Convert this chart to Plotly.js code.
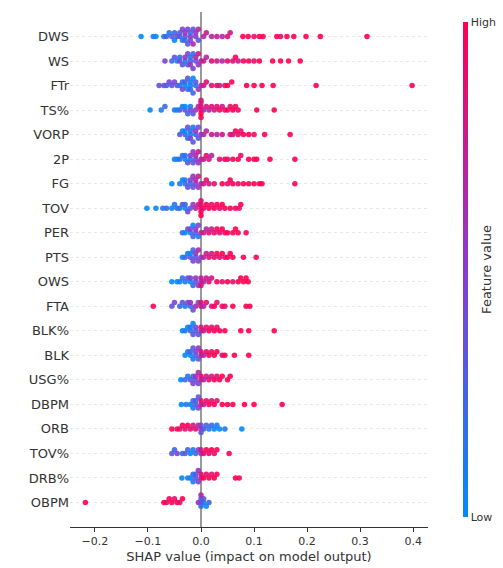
<!DOCTYPE html>
<html>
<head>
<meta charset="utf-8">
<script src="https://cdn.plot.ly/plotly-3.0.1.min.js"></script>
<style>body{margin:0;background:#fff}#chart{width:503px;height:568px}</style>
</head>
<body>
<div id="chart"></div>
<script>
// features, top to bottom
var features = ['DWS','WS','FTr','TS%','VORP','2P','FG','TOV','PER','PTS','OWS','FTA','BLK%','BLK','USG%','DBPM','ORB','TOV%','DRB%','OBPM'];

// SHAP values per feature
var shapDWS = [-0.113,-0.09,-0.085,-0.07,-0.065,-0.06,-0.055,-0.05,-0.05,-0.045,-0.04,-0.04,-0.035,-0.035,-0.03,-0.03,-0.03,-0.025,-0.025,-0.02,-0.02,-0.02,-0.015,-0.015,-0.01,-0.01,-0.005,-0.005,0.005,0.01,0.02,0.03,0.04,0.05,0.055,0.079,0.089,0.1,0.11,0.117,0.143,0.15,0.162,0.175,0.198,0.225,0.313];
var shapWS = [-0.068,-0.055,-0.05,-0.045,-0.04,-0.04,-0.035,-0.03,-0.03,-0.025,-0.025,-0.02,-0.02,-0.02,-0.015,-0.015,-0.01,-0.01,-0.005,-0.005,0,0.005,0.01,0.02,0.03,0.04,0.05,0.06,0.065,0.07,0.08,0.09,0.1,0.11,0.135,0.15,0.165,0.187];
var shapFTr = [-0.079,-0.07,-0.065,-0.06,-0.055,-0.05,-0.045,-0.04,-0.035,-0.035,-0.03,-0.03,-0.025,-0.025,-0.02,-0.02,-0.02,-0.015,-0.015,-0.01,-0.01,-0.005,0,0.005,0.01,0.02,0.03,0.035,0.045,0.05,0.058,0.086,0.1,0.115,0.136,0.217,0.398];
var shapTS = [-0.096,-0.075,-0.068,-0.05,-0.045,-0.04,-0.035,-0.03,-0.03,-0.025,-0.02,-0.02,-0.015,-0.01,-0.005,0,0,0,0,0,0,0.005,0.01,0.015,0.02,0.025,0.03,0.035,0.04,0.045,0.05,0.055,0.06,0.065,0.07,0.105,0.138];
var shapVORP = [-0.04,-0.035,-0.03,-0.03,-0.025,-0.025,-0.02,-0.02,-0.02,-0.015,-0.015,-0.01,-0.01,-0.005,-0.005,0,0.005,0.01,0.02,0.03,0.04,0.055,0.06,0.065,0.07,0.075,0.08,0.09,0.1,0.12,0.168];
var shap2P = [-0.05,-0.045,-0.04,-0.035,-0.03,-0.03,-0.025,-0.02,-0.02,-0.015,-0.015,-0.01,-0.01,-0.005,-0.005,0,0.005,0.01,0.015,0.02,0.035,0.045,0.05,0.06,0.07,0.075,0.09,0.1,0.105,0.13,0.177];
var shapFG = [-0.055,-0.04,-0.035,-0.03,-0.03,-0.025,-0.02,-0.02,-0.015,-0.015,-0.01,-0.01,-0.005,-0.005,0,0.005,0.01,0.015,0.025,0.04,0.05,0.055,0.06,0.07,0.08,0.09,0.1,0.11,0.115,0.177];
var shapTOV = [-0.102,-0.085,-0.072,-0.065,-0.055,-0.05,-0.045,-0.04,-0.035,-0.03,-0.03,-0.025,-0.02,-0.015,-0.01,-0.005,0,0,0,0,0,0.005,0.01,0.015,0.02,0.025,0.03,0.035,0.04,0.045,0.055,0.065,0.072,0.075];
var shapPER = [-0.035,-0.03,-0.025,-0.02,-0.02,-0.015,-0.015,-0.01,-0.01,-0.005,-0.005,0,0.005,0.01,0.015,0.02,0.025,0.03,0.035,0.04,0.045,0.05,0.06,0.065,0.07,0.085];
var shapPTS = [-0.035,-0.03,-0.025,-0.02,-0.02,-0.015,-0.015,-0.01,-0.01,-0.005,-0.005,0,0.005,0.01,0.015,0.02,0.025,0.03,0.035,0.04,0.045,0.05,0.055,0.06,0.08,0.104];
var shapOWS = [-0.055,-0.045,-0.04,-0.035,-0.03,-0.025,-0.02,-0.02,-0.015,-0.01,-0.01,-0.005,0,0,0,0.005,0.01,0.015,0.02,0.03,0.04,0.05,0.06,0.07,0.075,0.08,0.085,0.089];
var shapFTA = [-0.09,-0.055,-0.05,-0.04,-0.035,-0.03,-0.025,-0.02,-0.02,-0.015,-0.01,-0.005,0,0,0.005,0.01,0.02,0.025,0.03,0.04,0.045,0.06,0.085,0.092];
var shapBLKp = [-0.035,-0.03,-0.025,-0.02,-0.02,-0.015,-0.015,-0.01,-0.01,-0.005,0,0,0.005,0.01,0.015,0.02,0.025,0.03,0.035,0.045,0.075,0.09,0.138];
var shapBLK = [-0.03,-0.025,-0.02,-0.02,-0.015,-0.015,-0.01,-0.01,-0.005,-0.005,0,0,0.005,0.01,0.015,0.02,0.025,0.03,0.04,0.045,0.063,0.09];
var shapUSG = [-0.038,-0.03,-0.025,-0.02,-0.015,-0.015,-0.01,-0.01,-0.005,-0.005,0,0,0.005,0.01,0.015,0.02,0.025,0.03,0.035,0.04,0.05,0.055];
var shapDBPM = [-0.037,-0.028,-0.02,-0.015,-0.015,-0.01,-0.01,-0.005,-0.005,0,0,0.005,0.01,0.015,0.02,0.025,0.03,0.04,0.05,0.06,0.082,0.1,0.153];
var shapORB = [-0.055,-0.045,-0.04,-0.035,-0.03,-0.025,-0.02,-0.015,-0.01,-0.005,0,0,0,0.005,0.01,0.015,0.02,0.025,0.03,0.035,0.045,0.077];
var shapTOVp = [-0.055,-0.05,-0.045,-0.035,-0.03,-0.025,-0.02,-0.015,-0.01,-0.005,0,0,0.005,0.01,0.015,0.02,0.025,0.03,0.053];
var shapDRBp = [-0.036,-0.025,-0.02,-0.015,-0.015,-0.01,-0.01,-0.005,-0.005,0,0,0.005,0.01,0.015,0.02,0.025,0.03,0.065,0.072];
var shapOBPM = [-0.218,-0.07,-0.065,-0.06,-0.055,-0.05,-0.045,-0.04,-0.035,-0.005,0,0,0,0,0.005,0.005,0.01,0.015];

// feature values on a 0 (low) .. 9 (high) scale
var valDWS = [0,1,0,1,2,1,3,2,0,4,2,3,1,4,3,5,2,4,3,5,2,4,3,6,4,5,3,6,6,7,6,7,6,8,7,9,9,8,9,9,9,8,9,9,9,9,9];
var valWS = [4,2,3,1,4,2,3,1,5,2,4,3,1,5,2,4,3,6,5,7,6,7,6,8,7,6,8,8,9,7,9,9,8,9,9,9,9,9];
var valFTr = [3,4,2,4,3,4,3,1,2,4,0,2,1,3,0,1,2,0,2,1,3,5,6,7,8,8,9,7,8,9,9,9,9,9,9,9,9];
var valTS = [0,1,2,1,0,2,1,3,0,2,4,1,3,5,6,9,8,9,8,9,7,6,7,6,8,7,8,9,7,8,9,8,9,9,8,9,9];
var valVORP = [3,1,2,0,1,3,0,2,4,1,3,2,5,3,4,5,6,6,7,6,7,8,7,9,8,8,9,9,8,9,9];
var val2P = [1,0,2,1,0,2,3,1,4,3,5,4,6,5,7,6,7,8,7,6,8,9,8,9,9,8,9,9,9,9,9];
var valFG = [0,1,0,2,1,3,2,4,3,5,4,6,5,7,6,7,8,7,8,9,8,9,9,8,9,9,9,9,9,9];
var valTOV = [0,0,1,2,0,1,2,1,3,0,2,4,3,5,6,7,9,8,9,8,9,8,9,9,8,9,9,8,9,9,9,9,8,9];
var valPER = [2,0,3,1,4,2,0,3,5,1,4,6,7,6,8,7,8,9,8,9,8,9,9,9,9,9];
var valPTS = [0,2,1,3,0,4,2,3,5,4,6,5,6,7,8,7,8,9,8,9,8,9,9,9,9,9];
var valOWS = [0,1,0,2,1,3,0,4,2,3,5,4,6,7,8,6,7,8,7,9,8,9,8,9,9,9,9,9];
var valFTA = [9,3,4,2,3,1,4,2,5,3,6,4,7,8,6,8,7,9,8,9,8,9,9,9];
var valBLKp = [0,1,0,2,1,3,0,2,4,3,6,8,7,8,9,8,9,8,9,9,9,9,9];
var valBLK = [0,1,0,2,1,3,2,4,3,5,7,8,6,8,9,8,9,9,8,9,9,9];
var valUSG = [0,2,1,3,2,4,3,5,4,6,7,8,6,7,8,7,9,8,9,9,9,9];
var valDBPM = [0,1,0,2,1,3,2,4,3,7,8,7,8,9,8,9,8,9,9,9,9,9,9];
var valORB = [9,9,8,9,8,9,8,7,8,6,5,4,3,3,2,1,2,0,1,0,1,0];
var valTOVp = [3,2,4,1,3,2,0,1,2,4,6,7,8,9,8,9,8,9,9];
var valDRBp = [0,1,0,2,1,3,2,4,5,7,8,9,8,9,8,9,9,9,9];
var valOBPM = [9,9,8,9,9,8,9,8,9,5,4,3,2,6,1,3,0,2];

var shapCols = [shapDWS,shapWS,shapFTr,shapTS,shapVORP,shap2P,shapFG,shapTOV,shapPER,shapPTS,shapOWS,shapFTA,shapBLKp,shapBLK,shapUSG,shapDBPM,shapORB,shapTOVp,shapDRBp,shapOBPM];
var valCols = [valDWS,valWS,valFTr,valTS,valVORP,val2P,valFG,valTOV,valPER,valPTS,valOWS,valFTA,valBLKp,valBLK,valUSG,valDBPM,valORB,valTOVp,valDRBp,valOBPM];

// beeswarm: bin along x, stack alternately above/below the row
var binW = 0.009, step = 0.15, cap = 0.4;
var xs = [], ys = [], cs = [];
for (var r = 0; r < features.length; r++) {
    var s = shapCols[r], v = valCols[r];
    var bins = {};
    for (var i = 0; i < s.length; i++) {
        var b = Math.round(s[i] / binW);
        var k = bins[b] || 0;
        bins[b] = k + 1;
        var layer = Math.ceil(k / 2);
        var off = (k % 2 == 0 ? 1 : -1) * layer * step;
        if (off > cap) off = cap;
        if (off < -cap) off = -cap;
        xs.push(s[i]);
        ys.push(r + off);
        cs.push(v[i] / 9);
    }
}

var trace = {
    x: xs, y: ys, type: 'scatter', mode: 'markers', hoverinfo: 'skip',
    marker: {
        size: 5.5, color: cs, cmin: 0, cmax: 1, opacity: 0.9,
        colorscale: [[0,'#008bfb'],[0.5,'#8a3bd0'],[1,'#ff0052']],
        showscale: true,
        colorbar: {
            x: 1.07, xanchor: 'left', thickness: 5, len: 1, y: 0.5, yanchor: 'middle',
            outlinewidth: 0, tickvals: [0, 1], ticktext: ['Low', 'High'], ticks: '',
            tickfont: {size: 11, color: '#333'},
            title: {text: 'Feature value', side: 'right', font: {size: 13, color: '#333'}}
        }
    }
};

var layout = {
    width: 503, height: 568,
    margin: {l: 70, r: 75, t: 12, b: 41, autoexpand: false},
    paper_bgcolor: '#fff', plot_bgcolor: '#fff',
    font: {family: 'DejaVu Sans', color: '#333'},
    showlegend: false,
    xaxis: {
        range: [-0.247, 0.428], tickvals: [-0.2,-0.1,0,0.1,0.2,0.3,0.4],
        ticktext: ['−0.2','−0.1','0.0','0.1','0.2','0.3','0.4'],
        ticks: 'outside', ticklen: 4, tickcolor: '#333', tickfont: {size: 11},
        showgrid: false, zeroline: true, zerolinecolor: '#999', zerolinewidth: 1.5,
        showline: true, linecolor: '#333', linewidth: 1,
        title: {text: 'SHAP value (impact on model output)', font: {size: 13}, standoff: 4}
    },
    yaxis: {
        range: [20.0, -1.0], tickvals: features.map(function (f, i) { return i; }),
        ticktext: features, ticks: '', tickfont: {size: 13},
        showgrid: true, gridcolor: '#e8e8e8', griddash: 'dot', gridwidth: 1,
        zeroline: false, showline: false
    }
};

Plotly.newPlot('chart', [trace], layout, {displayModeBar: false, staticPlot: true});
</script>
</body>
</html>
